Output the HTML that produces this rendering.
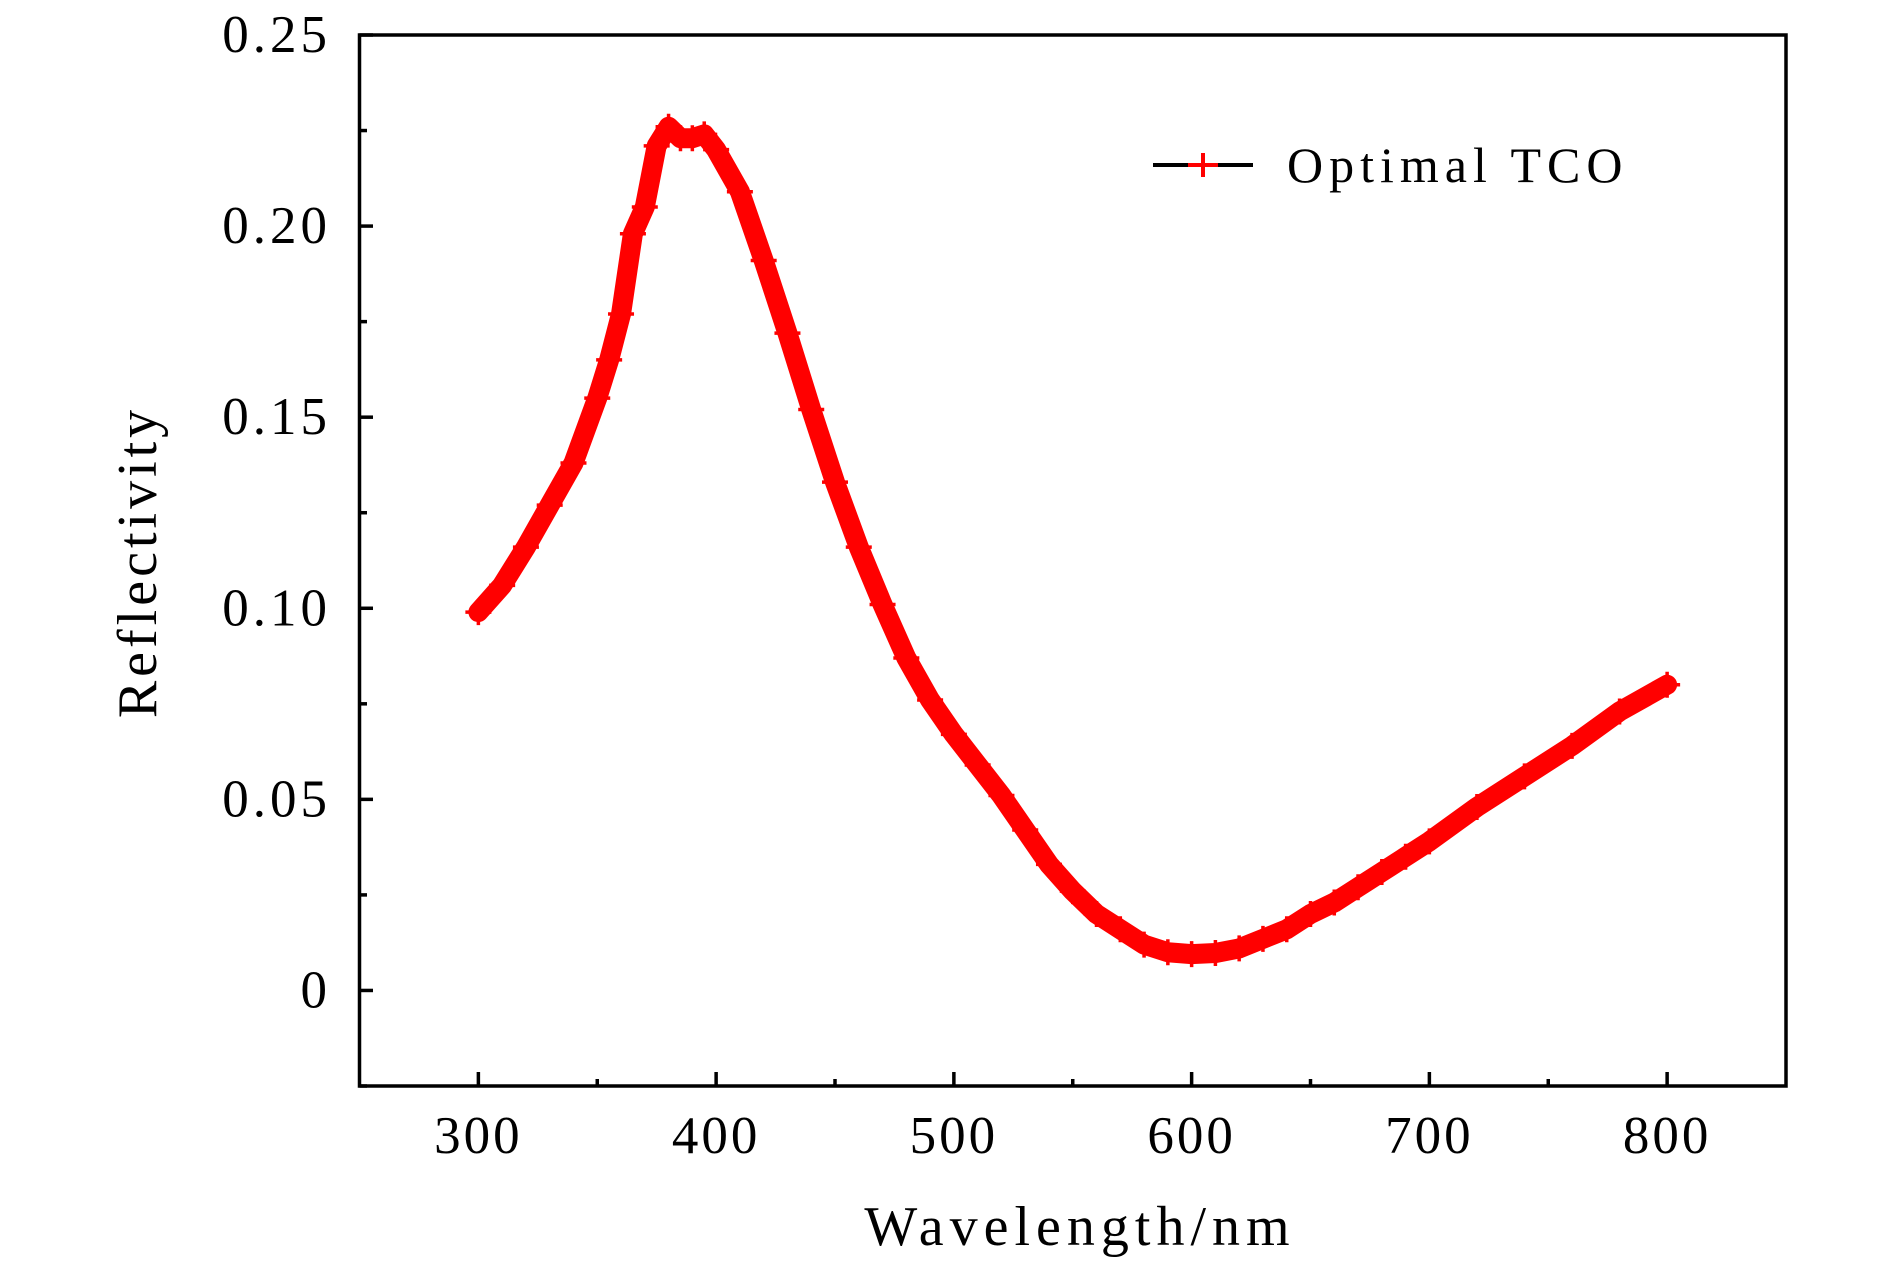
<!DOCTYPE html>
<html><head><meta charset="utf-8"><style>
html,body{margin:0;padding:0;background:#fff;}
svg{display:block;font-family:"Liberation Serif",serif;}
</style></head><body>
<svg id="chart" width="1890" height="1276" viewBox="0 0 1890 1276" xmlns="http://www.w3.org/2000/svg">
<g id="plot"></g>
<rect x="359.5" y="35" width="1426.5" height="1051" fill="none" stroke="#000" stroke-width="3.5"/>
<g id="ticks"></g>
<text x="1080" y="1245" font-size="56" text-anchor="middle" letter-spacing="6">Wavelength/nm</text>
<text transform="translate(156,562) rotate(-90)" font-size="56" text-anchor="middle" letter-spacing="4">Reflectivity</text>
<g>
<line x1="1153" y1="165" x2="1253" y2="165" stroke="#000" stroke-width="4"/>
<line x1="1188" y1="165" x2="1218" y2="165" stroke="#f00" stroke-width="4"/>
<path d="M1191 165H1215M1203 153V177" stroke="#f00" stroke-width="4"/>
<text x="1287" y="182" font-size="50" letter-spacing="6">Optimal TCO</text>
</g>
</svg>
<script>
const wavelengths=[300,310,320,330,340,350,355,360,365,370,375,380,385,390,395,400,410,420,430,440,450,460,470,480,490,500,510,520,530,540,550,560,570,580,590,600,610,620,630,640,650,660,670,680,690,700,720,740,760,780,800];
const reflectivity=[0.099,0.106,0.116,0.127,0.138,0.155,0.165,0.177,0.198,0.205,0.221,0.226,0.223,0.223,0.224,0.220,0.209,0.191,0.172,0.152,0.133,0.116,0.101,0.087,0.076,0.067,0.059,0.051,0.042,0.033,0.026,0.020,0.016,0.012,0.010,0.0095,0.0098,0.011,0.0135,0.016,0.020,0.023,0.027,0.031,0.035,0.039,0.048,0.056,0.064,0.073,0.080];
const xTicks=[300,400,500,600,700,800];
const xTickLabels=["300","400","500","600","700","800"];
const yTicks=[0,0.05,0.10,0.15,0.20,0.25];
const yTickLabels=["0","0.05","0.10","0.15","0.20","0.25"];
const NS="http://www.w3.org/2000/svg";
const X=v=>359.5+(v-250)/600*1426.5;
const Y=v=>1086-(v+0.025)/0.275*1051;
const plot=document.getElementById('plot'),ticks=document.getElementById('ticks');
function mk(tag,attrs,parent){const e=document.createElementNS(NS,tag);for(const k in attrs)e.setAttribute(k,attrs[k]);parent.appendChild(e);return e;}
const pts=wavelengths.map((w,i)=>X(w)+','+Y(reflectivity[i])).join(' ');
const line=mk('polyline',{points:pts,fill:'none',stroke:'#f00','stroke-width':20,'stroke-linejoin':'round','stroke-linecap':'round'},plot);


wavelengths.forEach((w,i)=>{const x=X(w),y=Y(reflectivity[i]);
const p=mk('path',{d:`M${x-13} ${y}H${x+13}M${x} ${y-13}V${y+13}`,stroke:'#f00','stroke-width':3.5},plot);

});
xTicks.forEach((t,i)=>{const x=X(t);
mk('line',{x1:x,y1:1086,x2:x,y2:1072,stroke:'#000','stroke-width':3.5},ticks);
const m=X(t+50);if(t+50<850)mk('line',{x1:m,y1:1086,x2:m,y2:1079,stroke:'#000','stroke-width':3.5},ticks);
const tx=mk('text',{x:x,y:1153,'font-size':53,'text-anchor':'middle','letter-spacing':3},ticks);tx.textContent=xTickLabels[i];

});
yTicks.forEach((t,i)=>{const y=Y(t);
mk('line',{x1:359.5,y1:y,x2:373,y2:y,stroke:'#000','stroke-width':3.5},ticks);
const m=Y(t-0.025);mk('line',{x1:359.5,y1:m,x2:367,y2:m,stroke:'#000','stroke-width':3.5},ticks);
const tx=mk('text',{x:331,y:y+17,'font-size':53,'text-anchor':'end','letter-spacing':4},ticks);tx.textContent=yTickLabels[i];

});
</script>
</body></html>
